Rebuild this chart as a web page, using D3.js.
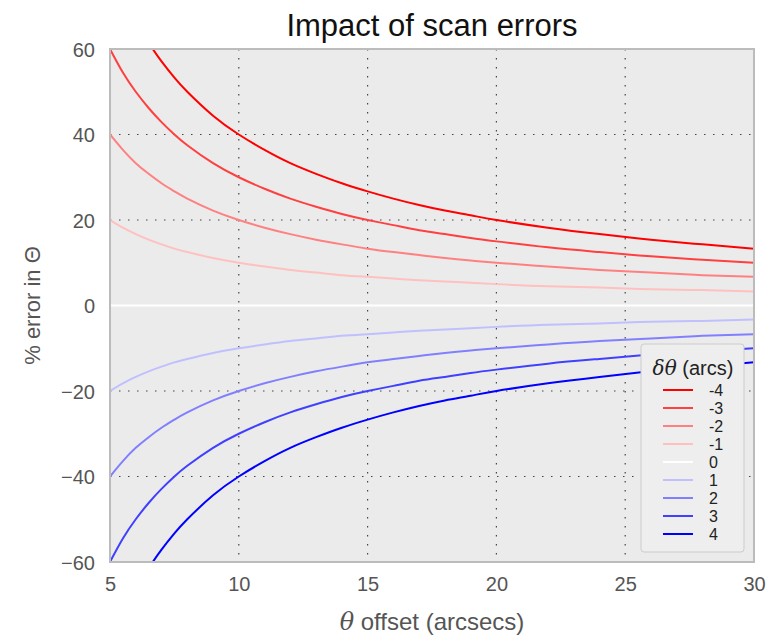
<!DOCTYPE html>
<html>
<head>
<meta charset="utf-8">
<script src="https://cdn.jsdelivr.net/npm/d3@7"></script>
<style>
  body { margin: 0; background: #fff; }
  text { font-family: "Liberation Sans", Arial, sans-serif; }
</style>
</head>
<body>
<svg id="chart" width="769" height="638"></svg>
<script>
// offsets (arcsecs) at which the curves were read
const offsets = [5, 5.5, 6, 6.5, 7, 7.5, 8, 9, 10, 11, 12, 13, 14, 15, 16, 17, 18, 19, 20, 22, 24, 26, 28, 30];

// % error values, one array per scan error
const errM4 = [80, 72.7, 66.7, 61.5, 57.1, 53.3, 50, 44.4, 40, 36.4, 33.3, 30.8, 28.6, 26.7, 25, 23.5, 22.2, 21.1, 20, 18.2, 16.7, 15.4, 14.3, 13.3];
const errM3 = [60, 54.5, 50, 46.2, 42.9, 40, 37.5, 33.3, 30, 27.3, 25, 23.1, 21.4, 20, 18.8, 17.6, 16.7, 15.8, 15, 13.6, 12.5, 11.5, 10.7, 10];
const errM2 = [40, 36.4, 33.3, 30.8, 28.6, 26.7, 25, 22.2, 20, 18.2, 16.7, 15.4, 14.3, 13.3, 12.5, 11.8, 11.1, 10.5, 10, 9.1, 8.3, 7.7, 7.1, 6.7];
const errM1 = [20, 18.2, 16.7, 15.4, 14.3, 13.3, 12.5, 11.1, 10, 9.1, 8.3, 7.7, 7.1, 6.7, 6.3, 5.9, 5.6, 5.3, 5, 4.5, 4.2, 3.8, 3.6, 3.3];
const err0  = [0, 0, 0, 0, 0, 0, 0, 0, 0, 0, 0, 0, 0, 0, 0, 0, 0, 0, 0, 0, 0, 0, 0, 0];
const errP1 = [-20, -18.2, -16.7, -15.4, -14.3, -13.3, -12.5, -11.1, -10, -9.1, -8.3, -7.7, -7.1, -6.7, -6.3, -5.9, -5.6, -5.3, -5, -4.5, -4.2, -3.8, -3.6, -3.3];
const errP2 = [-40, -36.4, -33.3, -30.8, -28.6, -26.7, -25, -22.2, -20, -18.2, -16.7, -15.4, -14.3, -13.3, -12.5, -11.8, -11.1, -10.5, -10, -9.1, -8.3, -7.7, -7.1, -6.7];
const errP3 = [-60, -54.5, -50, -46.2, -42.9, -40, -37.5, -33.3, -30, -27.3, -25, -23.1, -21.4, -20, -18.8, -17.6, -16.7, -15.8, -15, -13.6, -12.5, -11.5, -10.7, -10];
const errP4 = [-80, -72.7, -66.7, -61.5, -57.1, -53.3, -50, -44.4, -40, -36.4, -33.3, -30.8, -28.6, -26.7, -25, -23.5, -22.2, -21.1, -20, -18.2, -16.7, -15.4, -14.3, -13.3];

const seriesLabels = ["-4", "-3", "-2", "-1", "0", "1", "2", "3", "4"];
const seriesValues = [errM4, errM3, errM2, errM1, err0, errP1, errP2, errP3, errP4];
const seriesColors = ["#ff0000", "#ff4040", "#ff8080", "#ffc0c0", "#ffffff", "#c0c0ff", "#8080ff", "#4040ff", "#0000ff"];

const xTicks = [5, 10, 15, 20, 25, 30];
const yTicks = [-60, -40, -20, 0, 20, 40, 60];

const margin = { left: 110, right: 15, top: 49, bottom: 76 };
const W = 769, H = 638;
const svg = d3.select("#chart");

const x = d3.scaleLinear().domain([5, 30]).range([margin.left, W - margin.right]);
const y = d3.scaleLinear().domain([-60, 60]).range([H - margin.bottom, margin.top]);

// plot background
svg.append("rect")
    .attr("x", x(5)).attr("y", y(60))
    .attr("width", x(30) - x(5)).attr("height", y(-60) - y(60))
    .attr("fill", "#ebebeb");

// dotted grid
const grid = svg.append("g").attr("stroke", "#444").attr("stroke-width", 1.2)
    .attr("stroke-dasharray", "1.5,7.5");
grid.selectAll(".gx").data(xTicks.slice(1, -1)).join("line")
    .attr("x1", d => x(d)).attr("x2", d => x(d))
    .attr("y1", y(60)).attr("y2", y(-60));
grid.selectAll(".gy").data(yTicks.slice(1, -1)).join("line")
    .attr("y1", d => y(d)).attr("y2", d => y(d))
    .attr("x1", x(5)).attr("x2", x(30));

// curves, clipped to the axes box
svg.append("clipPath").attr("id", "clip")
    .append("rect")
    .attr("x", x(5)).attr("y", y(60))
    .attr("width", x(30) - x(5)).attr("height", y(-60) - y(60));

const line = d3.line()
    .x((d, i) => x(offsets[i]))
    .y(d => y(d))
    .curve(d3.curveNatural);

svg.append("g").attr("clip-path", "url(#clip)")
    .selectAll("path")
    .data(seriesValues)
    .join("path")
    .attr("d", line)
    .attr("fill", "none")
    .attr("stroke", (d, i) => seriesColors[i])
    .attr("stroke-width", 2);

// frame
svg.append("rect")
    .attr("x", x(5)).attr("y", y(60))
    .attr("width", x(30) - x(5)).attr("height", y(-60) - y(60))
    .attr("fill", "none").attr("stroke", "#bcbcbc").attr("stroke-width", 2);

// axes (tick labels only)
const xAxis = svg.append("g")
    .attr("transform", `translate(0,${y(-60)})`)
    .call(d3.axisBottom(x).tickValues(xTicks).tickSize(0).tickPadding(15).tickFormat(d3.format("d")));
const yAxis = svg.append("g")
    .attr("transform", `translate(${x(5)},0)`)
    .call(d3.axisLeft(y).tickValues(yTicks).tickSize(0).tickPadding(15).tickFormat(d => d < 0 ? "\u2212" + Math.abs(d) : d));
[xAxis, yAxis].forEach(a => {
    a.select(".domain").remove();
    a.selectAll("text")
        .attr("fill", "#555")
        .style("font-size", "20px")
        .style("font-family", "'Liberation Sans', Arial, sans-serif");
});
yAxis.selectAll("text").attr("dy", "0.35em");

// title
svg.append("text")
    .attr("x", (x(5) + x(30)) / 2).attr("y", 36)
    .attr("text-anchor", "middle")
    .attr("fill", "#111")
    .style("font-size", "31px")
    .text("Impact of scan errors");

// axis labels
const xl = svg.append("text")
    .attr("x", (x(5) + x(30)) / 2).attr("y", 630)
    .attr("text-anchor", "middle")
    .attr("fill", "#555")
    .style("font-size", "24px");
xl.append("tspan").style("font-style", "italic").style("font-family", "'DejaVu Serif', serif").text("\u03b8");
xl.append("tspan").text(" offset (arcsecs)");

svg.append("text")
    .attr("transform", `translate(40,${(y(60) + y(-60)) / 2}) rotate(-90)`)
    .attr("text-anchor", "middle")
    .attr("fill", "#555")
    .style("font-size", "22px")
    .text("% error in \u0398");

// legend
const legend = svg.append("g").attr("transform", "translate(641,344)");
legend.append("rect")
    .attr("width", 103).attr("height", 208)
    .attr("rx", 3)
    .attr("fill", "#eeeeee").attr("stroke", "#cccccc");
const lt = legend.append("text")
    .attr("x", 52).attr("y", 31)
    .attr("text-anchor", "middle")
    .attr("fill", "#222")
    .style("font-size", "20px");
lt.append("tspan").style("font-style", "italic").style("font-family", "'DejaVu Serif', serif").text("\u03b4\u03b8");
lt.append("tspan").text(" (arcs)");

const items = legend.selectAll(".item")
    .data(seriesLabels)
    .join("g")
    .attr("transform", (d, i) => `translate(0,${46 + i * 18})`);
items.append("line")
    .attr("x1", 22).attr("x2", 52)
    .attr("stroke", (d, i) => seriesColors[i])
    .attr("stroke-width", 2);
items.append("text")
    .attr("x", 68).attr("dy", "0.35em")
    .attr("fill", "#222")
    .style("font-size", "16px")
    .text(d => d);
</script>
</body>
</html>
